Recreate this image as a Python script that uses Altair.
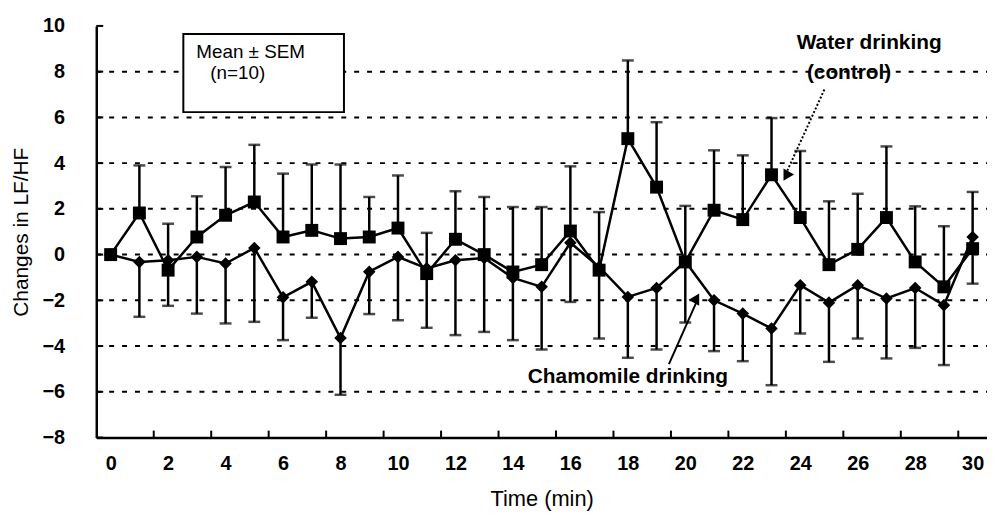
import altair as alt
import pandas as pd

minutes = list(range(31))
water = [0, 1.82, -0.68, 0.77, 1.72, 2.3, 0.77, 1.06, 0.7, 0.77, 1.16, -0.83, 0.67, 0.0, -0.76,
         -0.44, 1.03, -0.68, 5.07, 2.95, -0.32, 1.94, 1.53, 3.49, 1.62, -0.44, 0.23, 1.62, -0.32, -1.41, 0.26]
water_upper = [0, 3.9, 1.35, 2.55, 3.83, 4.8, 3.54, 3.94, 3.94, 2.52, 3.46, 0.95, 2.77, 2.52, 2.08,
               2.08, 3.86, 1.86, 8.49, 5.79, 2.13, 4.56, 4.34, 5.97, 4.53, 2.33, 2.66, 4.73, 2.11, 1.24, 2.74]
chamomile = [0, -0.32, -0.25, -0.1, -0.39, 0.29, -1.87, -1.19, -3.65, -0.75, -0.1, -0.6, -0.25, -0.15, -1.02,
             -1.41, 0.52, -0.54, -1.85, -1.46, -0.3, -2.0, -2.58, -3.23, -1.34, -2.1, -1.34, -1.92, -1.46, -2.21, 0.77]
chamomile_lower = [0, -2.72, -2.24, -2.58, -3.01, -2.94, -3.74, -2.76, -6.13, -2.6, -2.87, -3.2, -3.52, -3.38, -3.74,
                   -4.15, -2.07, -3.67, -4.51, -4.15, -2.97, -4.22, -4.66, -5.71, -3.45, -4.69, -3.67, -4.54, -4.08, -4.83, -1.27]

x_labels = list(range(0, 31, 2))
x_ticks = [1.5 + 2 * i for i in range(15)]
y_labels = list(range(-8, 11, 2))
gridlines = [-6, -4, -2, 0, 2, 4, 6, 8]

FONT = "Liberation Sans"
W, H = 898, 415

df = pd.DataFrame({"t": minutes, "water": water, "wu": water_upper,
                   "cham": chamomile, "cl": chamomile_lower})

xs = alt.Scale(domain=[-0.5, 30.5], nice=False, zero=False)
ys = alt.Scale(domain=[-8, 10], nice=False, zero=False)

X = alt.X("t:Q", scale=xs, title="Time (min)",
          axis=alt.Axis(values=x_labels, ticks=False, grid=False, labelPadding=16,
                        titlePadding=16, titleFontSize=22, domainWidth=2.5, domainColor="black"))
Y = alt.Y("water:Q", scale=ys, title="Changes in LF/HF",
          axis=alt.Axis(values=y_labels, ticks=False, grid=False, labelPadding=32,
                        titlePadding=11, titleFontSize=21, domainWidth=2.5, domainColor="black"))

base = alt.Chart(df)

grid = alt.Chart(pd.DataFrame({"g": gridlines})).mark_rule(
    color="black", strokeWidth=2, strokeDash=[5, 8]).encode(
    y=alt.Y("g:Q", scale=ys), x=alt.value(0), x2=alt.value(W))

xt = alt.Chart(pd.DataFrame({"k": x_ticks})).mark_rule(color="black", strokeWidth=2).encode(
    x=alt.X("k:Q", scale=xs), y=alt.value(H), y2=alt.value(H - 7))
yt = alt.Chart(pd.DataFrame({"k": y_labels})).mark_rule(color="black", strokeWidth=2).encode(
    y=alt.Y("k:Q", scale=ys), x=alt.value(0), x2=alt.value(7))

w_err = base.mark_rule(color="black", strokeWidth=2.5).encode(
    x=alt.X("t:Q", scale=xs), y=alt.Y("water:Q", scale=ys), y2="wu:Q")
w_cap = base.mark_tick(color="black", orient="horizontal", size=12, thickness=2.5).encode(
    x=alt.X("t:Q", scale=xs), y=alt.Y("wu:Q", scale=ys))
c_err = base.mark_rule(color="black", strokeWidth=2.5).encode(
    x=alt.X("t:Q", scale=xs), y=alt.Y("cham:Q", scale=ys), y2="cl:Q")
c_cap = base.mark_tick(color="black", orient="horizontal", size=12, thickness=2.5).encode(
    x=alt.X("t:Q", scale=xs), y=alt.Y("cl:Q", scale=ys))

c_line = base.mark_line(color="black", strokeWidth=2.5).encode(
    x=alt.X("t:Q", scale=xs), y=alt.Y("cham:Q", scale=ys))
c_pts = base.mark_point(shape="diamond", filled=True, color="black", size=160, opacity=1).encode(
    x=alt.X("t:Q", scale=xs), y=alt.Y("cham:Q", scale=ys))
w_line = base.mark_line(color="black", strokeWidth=2.5).encode(x=X, y=Y)
w_pts = base.mark_point(shape="square", filled=True, color="black", size=170, opacity=1).encode(
    x=alt.X("t:Q", scale=xs), y=alt.Y("water:Q", scale=ys))

# annotation box
box = alt.Chart(pd.DataFrame({"x1": [2.53], "x2": [8.12], "y1": [9.65], "y2": [6.23]})).mark_rect(
    fill="white", stroke="black", strokeWidth=2).encode(
    x=alt.X("x1:Q", scale=xs), x2="x2:Q", y=alt.Y("y1:Q", scale=ys), y2="y2:Q")

box_text = alt.Chart(pd.DataFrame({"x": [2.98, 3.47], "y": [8.87, 7.92],
                                   "s": ["Mean ± SEM", "(n=10)"]})).mark_text(
    align="left", baseline="middle", font=FONT, fontSize=19, color="black").encode(
    x=alt.X("x:Q", scale=xs), y=alt.Y("y:Q", scale=ys), text="s:N")

ann_text = alt.Chart(pd.DataFrame({"x": [26.4, 25.7, 18.0], "y": [9.23, 7.93, -5.35],
                                   "s": ["Water drinking", "(control)", "Chamomile drinking"]})).mark_text(
    align="center", baseline="middle", font=FONT, fontSize=21, fontWeight="bold", color="black").encode(
    x=alt.X("x:Q", scale=xs), y=alt.Y("y:Q", scale=ys), text="s:N")

w_arrow = alt.Chart(pd.DataFrame({"x": [24.84], "y": [7.22], "x2": [23.55], "y2": [3.67]})).mark_rule(
    color="black", strokeWidth=2, strokeDash=[2, 2]).encode(
    x=alt.X("x:Q", scale=xs), y=alt.Y("y:Q", scale=ys), x2="x2:Q", y2="y2:Q")
c_arrow = alt.Chart(pd.DataFrame({"x": [19.43], "y": [-4.79], "x2": [20.45], "y2": [-1.9]})).mark_rule(
    color="black", strokeWidth=2).encode(
    x=alt.X("x:Q", scale=xs), y=alt.Y("y:Q", scale=ys), x2="x2:Q", y2="y2:Q")
heads = alt.Chart(pd.DataFrame({"x": [23.6, 20.3], "y": [3.5, -1.97],
                                "sh": ["triangle-right", "triangle-left"]})).mark_point(
    filled=True, color="black", size=150, opacity=1).encode(
    x=alt.X("x:Q", scale=xs), y=alt.Y("y:Q", scale=ys),
    shape=alt.Shape("sh:N", scale=None, legend=None))

chart = alt.layer(
    grid, w_line, xt, yt, box, box_text, w_err, w_cap, c_err, c_cap, c_line, c_pts, w_pts,
    w_arrow, c_arrow, heads, ann_text
).properties(
    width=W, height=H, autosize="none",
    padding={"left": 89, "top": 16, "right": 0, "bottom": 74},
    background="white"
).configure_view(stroke="transparent").configure_axis(
    labelFont=FONT, labelFontSize=20, labelFontWeight="bold", labelColor="black",
    titleFont=FONT, titleFontWeight="normal", titleColor="black"
)

chart.save("out.html", embed_options={"renderer": "svg", "actions": False})
